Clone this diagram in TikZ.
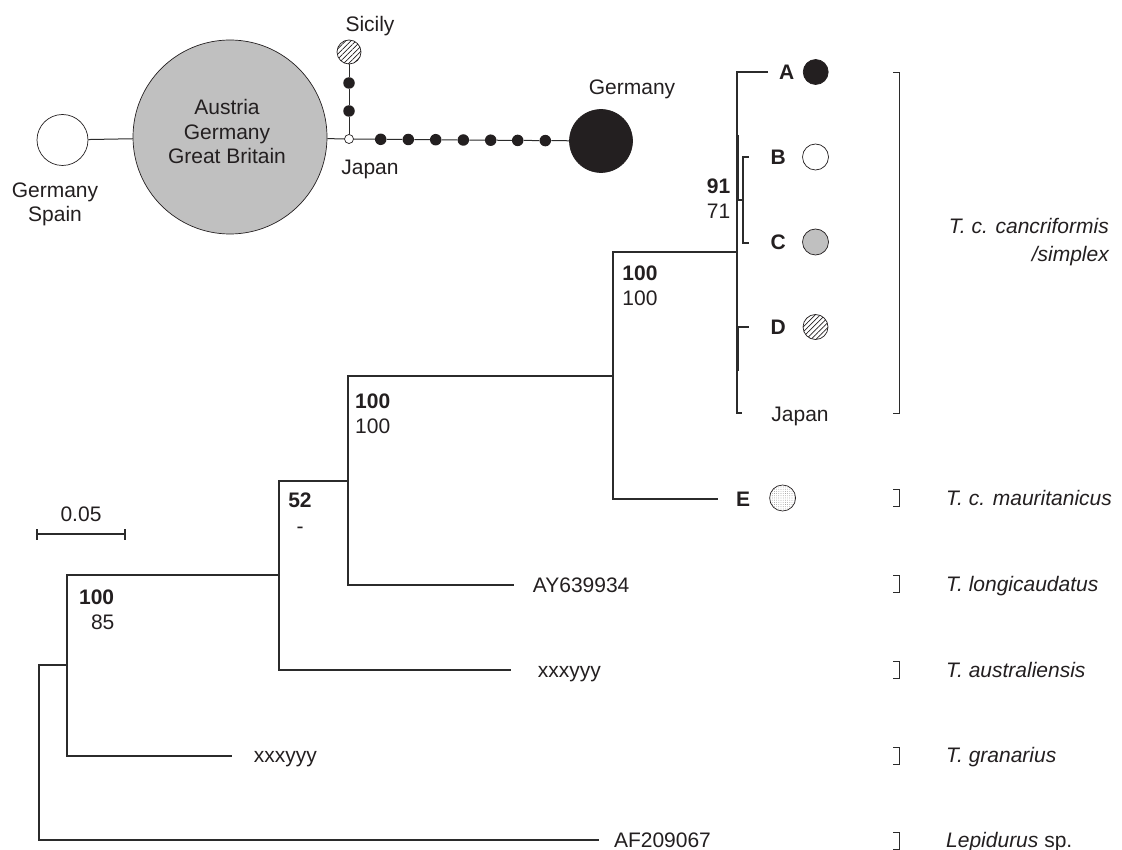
\documentclass[tikz,border=0pt]{standalone}
\usepackage{fontspec}
\setmainfont{Liberation Sans}
\usetikzlibrary{patterns.meta}
\definecolor{ink}{HTML}{231F20}
\definecolor{linec}{HTML}{2B2B2B}
\definecolor{grayfill}{HTML}{C0C0C0}
\begin{document}
\begin{tikzpicture}[x=1pt,y=-1pt,
  txt/.style={inner sep=0pt, text height=15pt, text depth=0pt, text=ink, font=\fontsize{21}{25}\selectfont},
  bld/.style={txt, font=\fontsize{21}{25}\selectfont\bfseries},
  spc/.style={txt, font=\fontsize{21}{25}\selectfont\itshape},
  br/.style={draw=linec, line width=1.3pt},
  thick br/.style={draw=linec, line width=3pt},
  net/.style={draw=linec, line width=1pt},
  sbr/.style={draw=linec, line width=0.8pt},
  hap/.style={circle, draw=ink, line width=0.7pt, inner sep=0pt, minimum size=#1},
  hatch/.style={pattern={Lines[angle=45,distance=3.6pt,line width=0.7pt]}, pattern color=ink},
  stip/.style={pattern={Dots[distance=2.2pt,radius=0.35pt]}, pattern color=ink!70},
  mdot/.style={circle, fill=ink, inner sep=0pt, minimum width=9.5pt, minimum height=11.5pt}
]
\useasboundingbox (0,0) rectangle (1122,850);

% ---------------- haplotype network ----------------
\node[hap=51pt, fill=white] (gs) at (62.5,140) {};
\node[hap=194pt, fill=grayfill] (agb) at (230,137) {};
\node[hap=24pt, hatch] (sic) at (349,52) {};
\node[mdot] (s2) at (349,83) {};
\node[mdot] (s1) at (349,111) {};
\node[hap=9pt, fill=white] (jp) at (349,139) {};
\node[mdot] (h1) at (380.7,139.3) {};
\node[mdot] (h2) at (408.3,139.5) {};
\node[mdot] (h3) at (435.7,139.7) {};
\node[mdot] (h4) at (463.3,140) {};
\node[mdot] (h5) at (490.7,140.2) {};
\node[mdot] (h6) at (517.7,140.4) {};
\node[mdot] (h7) at (545.3,140.6) {};
\node[hap=63pt, fill=ink] (ger) at (601,141) {};

\draw[net] (gs) -- (agb);
\draw[net] (agb) -- (jp);
\draw[net] (jp) -- (s1) -- (s2) -- (sic);
\draw[net] (jp) -- (h1) -- (h2) -- (h3) -- (h4) -- (h5) -- (h6) -- (h7) -- (ger);

\node[txt] (t1) at (227,107.5) {Austria};
\node[txt] (t2) at (227,132.5) {Germany};
\node[txt] (t3) at (227,156.5) {Great Britain};
\node[txt] (t4) at (55,190) {Germany};
\node[txt] (t5) at (55,214) {Spain};
\node[txt] (t6) at (370,24) {Sicily};
\node[txt] (t7) at (370,167) {Japan};
\node[txt] (t8) at (632,87.5) {Germany};

% ---------------- tree ----------------
\coordinate (n1j) at (67,665);
\coordinate (lepc) at (39,840);
\coordinate (Lep) at (599,840);
\coordinate (n2j) at (279,575);
\coordinate (grac) at (67,756);
\coordinate (Gra) at (232,756);
\coordinate (n3j) at (348,481);
\coordinate (ausc) at (279,670);
\coordinate (Aus) at (511,670);
\coordinate (n4j) at (613,376);
\coordinate (lonc) at (348,585);
\coordinate (Lon) at (514,585);
\coordinate (n5j) at (737,252);
\coordinate (ec) at (613,499);
\coordinate (Eb) at (718,499);
\coordinate (Ab) at (768,72);
\coordinate (jc) at (737,413);
\coordinate (Jt) at (742,413);
\coordinate (dc) at (737,327);
\coordinate (Dt) at (749,327);
\coordinate (th1) at (737,135);
\coordinate (th2) at (737,200);
\coordinate (th3) at (737,327);
\coordinate (th4) at (737,371);
\coordinate (bcj) at (743,200);
\coordinate (bct) at (749,157);
\coordinate (bctv) at (743,157);
\coordinate (bcbv) at (743,243);
\coordinate (bcb) at (749,243);

\draw[br] (n1j) -| (lepc) -- (Lep);
\draw[br] (n2j) -| (grac) -- (Gra);
\draw[br] (n3j) -| (ausc) -- (Aus);
\draw[br] (n4j) -| (lonc) -- (Lon);
\draw[br] (n5j) -| (ec) -- (Eb);
\draw[br] (Ab) -| (jc) -- (Jt);
\draw[br] (dc) -- (Dt);
\draw[br] (th2) -- (bcj);
\draw[br] (bct) -- (bctv) -- (bcbv) -- (bcb);
\draw[thick br] (th1) -- (th2);
\draw[thick br] (th3) -- (th4);

% support values
\node[bld] (b1a) at (640,273) {100};
\node[txt] (b1b) at (640,298) {100};
\node[bld] (b2a) at (372.7,400.7) {100};
\node[txt] (b2b) at (372.7,425.7) {100};
\node[bld] (b3a) at (300,500) {52};
\node[txt] (b3b) at (300,526) {-};
\node[bld] (b4a) at (96.6,596.7) {100};
\node[txt] (b4b) at (102.7,622) {85};
\node[bld] (b5a) at (718.5,186) {91};
\node[txt] (b5b) at (718.5,210.7) {71};

% clade labels and symbols
\node[bld] (lA) at (786.7,72) {A};
\node[hap=25pt, fill=ink] (cA) at (815.7,72) {};
\node[bld] (lB) at (778.3,157) {B};
\node[hap=26pt, fill=white] (cB) at (815.5,157) {};
\node[bld] (lC) at (778.3,242) {C};
\node[hap=26pt, fill=grayfill] (cC) at (815.5,242) {};
\node[bld] (lD) at (778.3,327) {D};
\node[hap=25pt, hatch] (cD) at (815.5,327) {};
\node[txt] (lJ) at (800,414) {Japan};
\node[bld] (lE) at (743,499) {E};
\node[hap=26pt, stip] (cE) at (782.6,498) {};

% accession labels
\node[txt, anchor=west] (acc1) at (532.7,585) {AY639934};
\node[txt, anchor=west] (acc2) at (537.7,670) {xxxyyy};
\node[txt, anchor=west] (acc3) at (253.7,755) {xxxyyy};
\node[txt, anchor=west] (acc4) at (613.8,840) {AF209067};

% scale bar
\coordinate (sbl) at (37,534);
\coordinate (sbr) at (125,534);
\draw[br] (sbl) -- (sbr);
\draw[br] ([yshift=-5.5pt]sbl) -- ([yshift=5.5pt]sbl);
\draw[br] ([yshift=-5.5pt]sbr) -- ([yshift=5.5pt]sbr);
\node[txt] (sbt) at (81,514) {0.05};

% brackets
\coordinate (bgt) at (893,72);
\coordinate (bgtv) at (899,72);
\coordinate (bgbv) at (899,413);
\coordinate (bgb) at (893,413);
\draw[sbr] (bgt) -- (bgtv) -- (bgbv) -- (bgb);
\foreach \yy in {498,584,670,756,841}{
  \draw[sbr] (893,\yy-8.5) -- (899,\yy-8.5) -- (899,\yy+8.5) -- (893,\yy+8.5);
}

% species labels
\node[spc, anchor=east] (sp0a) at (1109,226) {T. c. cancriformis};
\node[spc, anchor=east] (sp0b) at (1109,254) {/simplex};
\node[spc, anchor=west] (sp1) at (946,498) {T. c. mauritanicus};
\node[spc, anchor=west] (sp2) at (946,584) {T. longicaudatus};
\node[spc, anchor=west] (sp3) at (946,670) {T. australiensis};
\node[spc, anchor=west] (sp4) at (946,755) {T. granarius};
\node[txt, anchor=west] (sp5) at (946,840) {\textit{Lepidurus} sp.};
\end{tikzpicture}
\end{document}
